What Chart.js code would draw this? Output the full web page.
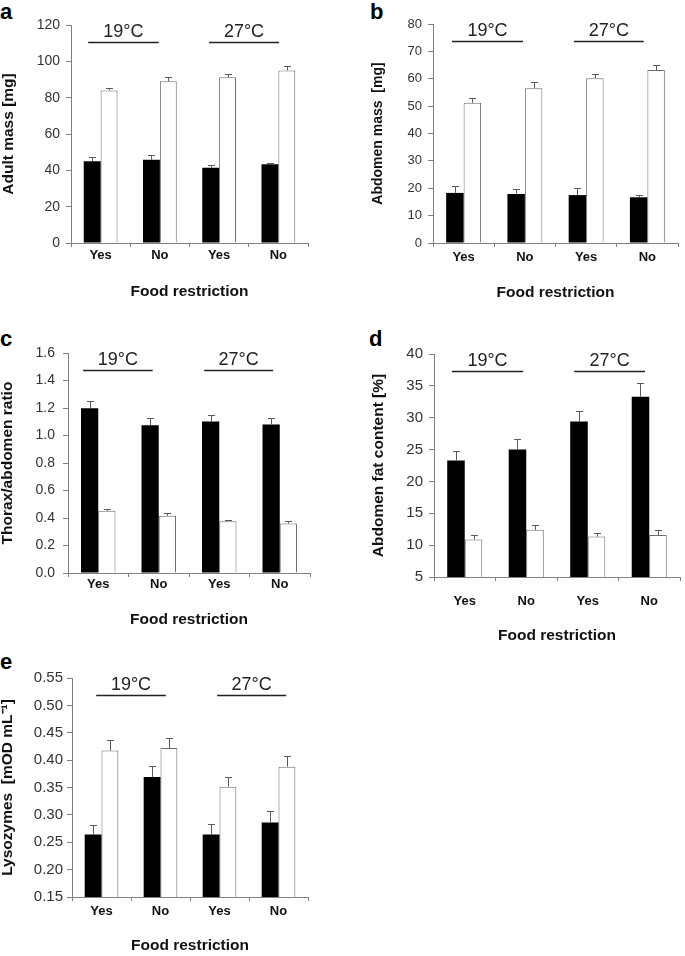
<!DOCTYPE html>
<html><head><meta charset="utf-8">
<script src="https://cdn.jsdelivr.net/npm/chart.js@4.4.1/dist/chart.umd.min.js"></script>
<style>
html,body{margin:0;padding:0;background:#fff;}
#page{position:relative;width:685px;height:956px;overflow:hidden;background:#fff;}
#page canvas{position:absolute;}
.lbl{position:absolute;font:bold 22px "Liberation Sans",Arial,sans-serif;line-height:22px;color:#000;}
</style></head><body>
<div id="page">
  <div class="lbl" style="left:0px;top:1px">a</div>
  <div class="lbl" style="left:370px;top:1px">b</div>
  <div class="lbl" style="left:0px;top:328px">c</div>
  <div class="lbl" style="left:369px;top:328px">d</div>
  <div class="lbl" style="left:0px;top:651px">e</div>
</div>
<script>
// ---------- data ----------
const categories = ["Yes", "No", "Yes", "No"];
const temperatureGroups = ["19°C", "27°C"];

// a: Adult mass [mg]
const adultMassBlack   = [45.0, 45.8, 41.4, 43.4];
const adultMassBlackSE = [2.4, 2.4, 1.6, 0.9];
const adultMassWhite   = [84.0, 89.0, 91.2, 95.0];
const adultMassWhiteSE = [1.5, 2.4, 2.0, 2.2];
const adultMassTicks   = [0, 20, 40, 60, 80, 100, 120];

// b: Abdomen mass [mg]
const abdomenMassBlack   = [18.3, 17.9, 17.5, 16.7];
const abdomenMassBlackSE = [2.4, 1.8, 2.6, 0.7];
const abdomenMassWhite   = [51.2, 56.5, 60.2, 63.2];
const abdomenMassWhiteSE = [1.7, 2.3, 1.7, 1.7];
const abdomenMassTicks   = [0, 10, 20, 30, 40, 50, 60, 70, 80];

// c: Thorax/abdomen ratio
const ratioBlack   = [1.199, 1.075, 1.102, 1.080];
const ratioBlackSE = [0.051, 0.051, 0.049, 0.046];
const ratioWhite   = [0.452, 0.416, 0.377, 0.360];
const ratioWhiteSE = [0.017, 0.017, 0.010, 0.019];
const ratioTicks   = [0.0, 0.2, 0.4, 0.6, 0.8, 1.0, 1.2, 1.4, 1.6];

// d: Abdomen fat content [%]
const fatBlack   = [23.3, 25.0, 29.4, 33.3];
const fatBlackSE = [1.5, 1.6, 1.6, 2.1];
const fatWhite   = [10.9, 12.4, 11.35, 11.6];
const fatWhiteSE = [0.7, 0.8, 0.6, 0.7];
const fatTicks   = [5, 10, 15, 20, 25, 30, 35, 40];

// e: Lysozymes [mOD mL-1]
const lysoBlack   = [0.264, 0.369, 0.264, 0.286];
const lysoBlackSE = [0.018, 0.020, 0.019, 0.021];
const lysoWhite   = [0.4175, 0.422, 0.3515, 0.388];
const lysoWhiteSE = [0.019, 0.018, 0.017, 0.019];
const lysoTicks   = [0.15, 0.20, 0.25, 0.30, 0.35, 0.40, 0.45, 0.50, 0.55];

// ---------- styling / plugins ----------
const FAMILY = '"Liberation Sans", Arial, Helvetica, sans-serif';
const AXIS_COLOR = '#808080';

const errorBarPlugin = {
  id: 'errorBars',
  afterDatasetsDraw(chart) {
    const ctx = chart.ctx, ys = chart.scales.y;
    ctx.save();
    ctx.strokeStyle = '#5a5a5a';
    ctx.lineWidth = 1;
    chart.data.datasets.forEach((ds, di) => {
      const meta = chart.getDatasetMeta(di);
      meta.data.forEach((bar, i) => {
        const v = ds.data[i], e = ds.err[i];
        const x = Math.round(bar.x) + 0.5;
        const y0 = bar.y;
        const y1 = Math.round(ys.getPixelForValue(v + e)) + 0.5;
        ctx.beginPath();
        ctx.moveTo(x, y0); ctx.lineTo(x, y1);
        ctx.moveTo(x - 3.5, y1); ctx.lineTo(x + 3.5, y1);
        ctx.stroke();
      });
    });
    ctx.restore();
  }
};

const groupPlugin = {
  id: 'tempGroups',
  afterDraw(chart, args, opts) {
    const {ctx, chartArea, scales: {x}} = chart;
    ctx.save();
    opts.spans.forEach((sp, gi) => {
      const x1 = x.getPixelForValue(sp[0]);
      const x2 = x.getPixelForValue(sp[1]);
      const yl = Math.round(chartArea.top + 17) + 0.5;
      ctx.strokeStyle = '#222';
      ctx.lineWidth = 1.3;
      ctx.beginPath(); ctx.moveTo(x1, yl); ctx.lineTo(x2, yl); ctx.stroke();
      ctx.fillStyle = '#222';
      ctx.font = '18px ' + FAMILY;
      ctx.textAlign = 'center';
      ctx.textBaseline = 'middle';
      ctx.fillText(temperatureGroups[gi], (x1 + x2) / 2, chartArea.top + 7.5);
    });
    ctx.restore();
  }
};

const page = document.getElementById('page');

function makePanel(p) {
  const cv = document.createElement('canvas');
  cv.width = p.box.w; cv.height = p.box.h;
  cv.style.left = p.box.x + 'px'; cv.style.top = p.box.y + 'px';
  cv.style.width = p.box.w + 'px'; cv.style.height = p.box.h + 'px';
  page.appendChild(cv);

  const xTitleSize = 15.5, xTitleLH = xTitleSize * 1.2;
  const yTitleLH = p.yTitleSize * 1.2;
  const yW = p.area.l - p.box.x;
  const xH = p.xTitleY + xTitleLH / 2 - p.area.b;

  new Chart(cv, {
    type: 'bar',
    data: {
      labels: categories,
      datasets: [
        {data: p.black, err: p.blackErr, backgroundColor: '#000', borderWidth: 0},
        {data: p.white, err: p.whiteErr, backgroundColor: '#fff', borderColor: '#6e6e6e', borderWidth: 1}
      ]
    },
    options: {
      responsive: false, animation: false, devicePixelRatio: 1,
      layout: {padding: {
        left: 0,
        top: p.area.t - p.box.y,
        right: p.box.x + p.box.w - p.area.r,
        bottom: p.box.y + p.box.h - (p.area.b + xH)
      }},
      datasets: {bar: {categoryPercentage: 0.57, barPercentage: 1.0}},
      plugins: {
        legend: {display: false},
        tooltip: {enabled: false},
        tempGroups: {spans: p.spans}
      },
      scales: {
        x: {
          grid: {offset: true, drawOnChartArea: false, drawTicks: true, tickLength: 4, color: AXIS_COLOR},
          border: {color: AXIS_COLOR, width: 1},
          ticks: {font: {family: FAMILY, size: 13, weight: 'bold'}, color: '#111', padding: p.xPad, maxRotation: 0, autoSkip: false},
          title: {display: true, text: 'Food restriction', color: '#111',
                  font: {family: FAMILY, size: xTitleSize, weight: 'bold'}, padding: {top: 0, bottom: 0}},
          afterFit(s) { s.height = xH; }
        },
        y: {
          min: p.ticks[0], max: p.ticks[p.ticks.length - 1],
          grid: {drawOnChartArea: false, drawTicks: true, tickLength: 5, color: AXIS_COLOR},
          border: {color: AXIS_COLOR, width: 1},
          ticks: {font: {family: FAMILY, size: p.tickSize}, color: '#333', padding: p.yPad,
                  callback: (v) => Number(v).toFixed(p.dec)},
          afterBuildTicks(s) { s.ticks = p.ticks.map(v => ({value: v})); },
          title: {display: true, text: p.yTitle, color: '#111',
                  font: {family: FAMILY, size: p.yTitleSize, weight: 'bold'},
                  padding: {top: Math.max(0, p.yTitleX - p.box.x - yTitleLH / 2), bottom: 0}},
          afterFit(s) { s.width = yW; }
        }
      }
    },
    plugins: [errorBarPlugin, groupPlugin]
  });
}

makePanel({
  box: {x: -10, y: 0, w: 350, h: 310}, area: {l: 71, t: 25, r: 308, b: 243},
  yTitleX: 8.5, xTitleY: 292, xPad: 1, yPad: 6, tickSize: 14, dec: 0,
  yTitle: 'Adult mass [mg]', yTitleSize: 15.5,
  black: adultMassBlack, blackErr: adultMassBlackSE, white: adultMassWhite, whiteErr: adultMassWhiteSE,
  ticks: adultMassTicks, spans: [[-0.21, 0.98], [1.83, 3.01]]
});
makePanel({
  box: {x: 345, y: 0, w: 340, h: 310}, area: {l: 433, t: 24, r: 678, b: 243},
  yTitleX: 378, xTitleY: 292.5, xPad: 3, yPad: 6, tickSize: 13, dec: 0,
  yTitle: 'Abdomen mass  [mg]', yTitleSize: 14,
  black: abdomenMassBlack, blackErr: abdomenMassBlackSE, white: abdomenMassWhite, whiteErr: abdomenMassWhiteSE,
  ticks: abdomenMassTicks, spans: [[-0.19, 0.97], [1.80, 2.94]]
});
makePanel({
  box: {x: -10, y: 310, w: 350, h: 320}, area: {l: 68, t: 353, r: 310, b: 573},
  yTitleX: 8, xTitleY: 620, xPad: 0, yPad: 8, tickSize: 14, dec: 1,
  yTitle: 'Thorax/abdomen ratio', yTitleSize: 15.5,
  black: ratioBlack, blackErr: ratioBlackSE, white: ratioWhite, whiteErr: ratioWhiteSE,
  ticks: ratioTicks, spans: [[-0.25, 0.90], [1.75, 2.89]]
});
makePanel({
  box: {x: 345, y: 310, w: 340, h: 330}, area: {l: 434, t: 354, r: 680, b: 577},
  yTitleX: 379, xTitleY: 636, xPad: 13, yPad: 6, tickSize: 15, dec: 0,
  yTitle: 'Abdomen fat content [%]', yTitleSize: 15.5,
  black: fatBlack, blackErr: fatBlackSE, white: fatWhite, whiteErr: fatWhiteSE,
  ticks: fatTicks, spans: [[-0.21, 0.95], [1.78, 2.93]]
});
makePanel({
  box: {x: -10, y: 640, w: 350, h: 316}, area: {l: 72, t: 678, r: 308, b: 897},
  yTitleX: 8, xTitleY: 946, xPad: 3, yPad: 4, tickSize: 15, dec: 2,
  yTitle: 'Lysozymes  [mOD mL\u207B\u00B9]', yTitleSize: 15.5,
  black: lysoBlack, blackErr: lysoBlackSE, white: lysoWhite, whiteErr: lysoWhiteSE,
  ticks: lysoTicks, spans: [[-0.09, 1.09], [1.96, 3.13]]
});
</script>
</body></html>
